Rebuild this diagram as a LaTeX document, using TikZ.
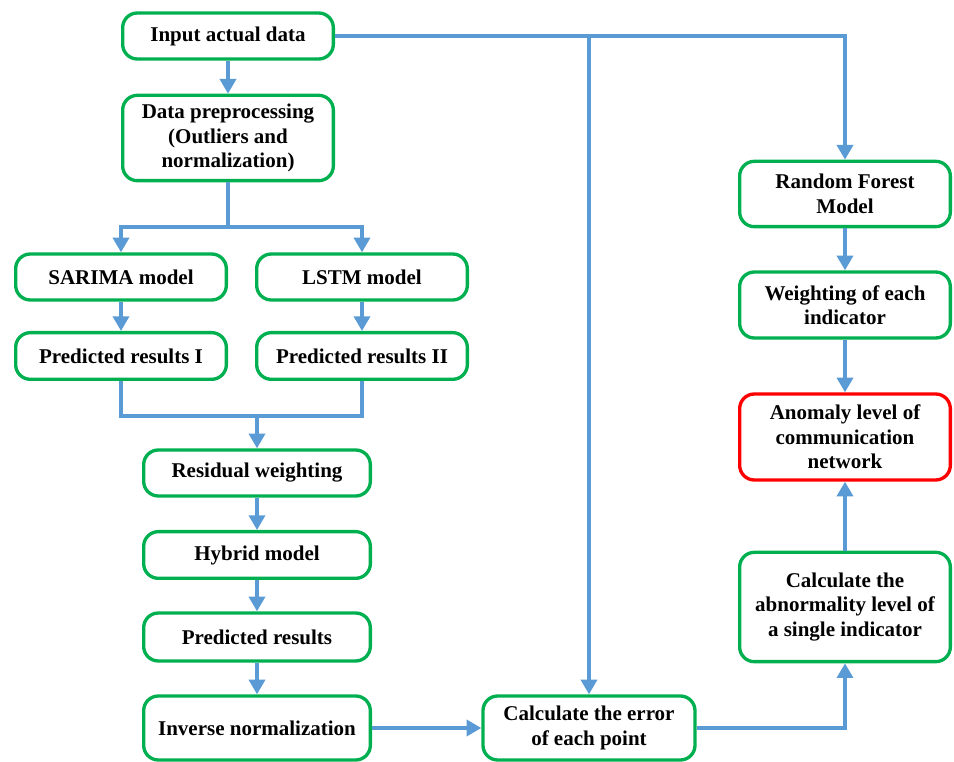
\documentclass[tikz,border=0pt]{standalone}
\usepackage{fontspec}
\setmainfont{Liberation Serif}
\usetikzlibrary{arrows.meta}
\definecolor{bgreen}{RGB}{0,176,80}
\definecolor{bred}{RGB}{255,0,0}
\definecolor{lblue}{RGB}{91,155,213}
\begin{document}
\begin{tikzpicture}[x=0.75pt,y=-0.75pt,
  box/.style={draw=bgreen, line width=2.5pt, rounded corners=11pt, minimum width=158pt,
    align=center, font=\fontsize{15.75}{18.4}\selectfont\bfseries, inner sep=0pt, fill=white},
  conn/.style={draw=lblue, line width=2.6pt, -{Triangle[width=12pt,length=11pt]}},
  plain/.style={draw=lblue, line width=2.6pt}]
\useasboundingbox (0,0) rectangle (954,762);

\node[box, minimum height=34.5pt] (in) at (228,36) {Input actual data};
\node[box, minimum height=64pt] (pre) at (228,138) {Data preprocessing\\(Outliers and\\normalization)};
\node[box, minimum height=34.5pt] (sar) at (121,277) {SARIMA model};
\node[box, minimum height=34.5pt] (lstm) at (362,277) {LSTM model};
\node[box, minimum height=35pt] (pr1) at (121,356) {Predicted results I};
\node[box, minimum height=35pt] (pr2) at (362,356) {Predicted results II};
\node[box, minimum height=34.5pt, minimum width=170pt] (res) at (257,473) {Residual weighting};
\node[box, minimum height=35pt, minimum width=170pt] (hyb) at (257,555) {Hybrid model};
\node[box, minimum height=36pt, minimum width=170pt] (prd) at (257,637) {Predicted results};
\node[box, minimum height=48pt, minimum width=170pt] (inv) at (257,728) {Inverse normalization};
\node[box, minimum height=48pt, minimum width=159pt] (err) at (589,728) {Calculate the error\\of each point};
\node[box, minimum height=49pt] (rf) at (845,194) {Random Forest\\Model};
\node[box, minimum height=49.5pt] (wt) at (845,305) {Weighting of each\\indicator};
\node[box, draw=bred, minimum height=64.5pt] (ano) at (845,437) {Anomaly level of\\communication\\network};
\node[box, minimum height=82pt] (abn) at (845,607) {Calculate the\\abnormality level of\\a single indicator};

\coordinate (sp) at (228,227);
\coordinate (mg) at (257,416);

\draw[conn] (in) -- (pre);
\draw[plain] (pre.south) -- (sp);
\draw[conn] (sp) -| (sar.north);
\draw[conn] (sp) -| (lstm.north);
\draw[conn] (sar) -- (pr1);
\draw[conn] (lstm) -- (pr2);
\draw[plain] (pr1.south) |- (mg);
\draw[plain] (pr2.south) |- (mg);
\draw[conn] (mg) -- (res.north);
\draw[conn] (res) -- (hyb);
\draw[conn] (hyb) -- (prd);
\draw[conn] (prd) -- (inv);
\draw[conn] (inv) -- (err);
\draw[conn] (in.east) -| (rf.north);
\draw[conn] (err.north |- in.east) -- (err.north);
\draw[conn] (rf) -- (wt);
\draw[conn] (wt) -- (ano);
\draw[conn] (err.east) -| (abn.south);
\draw[conn] (abn) -- (ano);
\end{tikzpicture}
\end{document}
